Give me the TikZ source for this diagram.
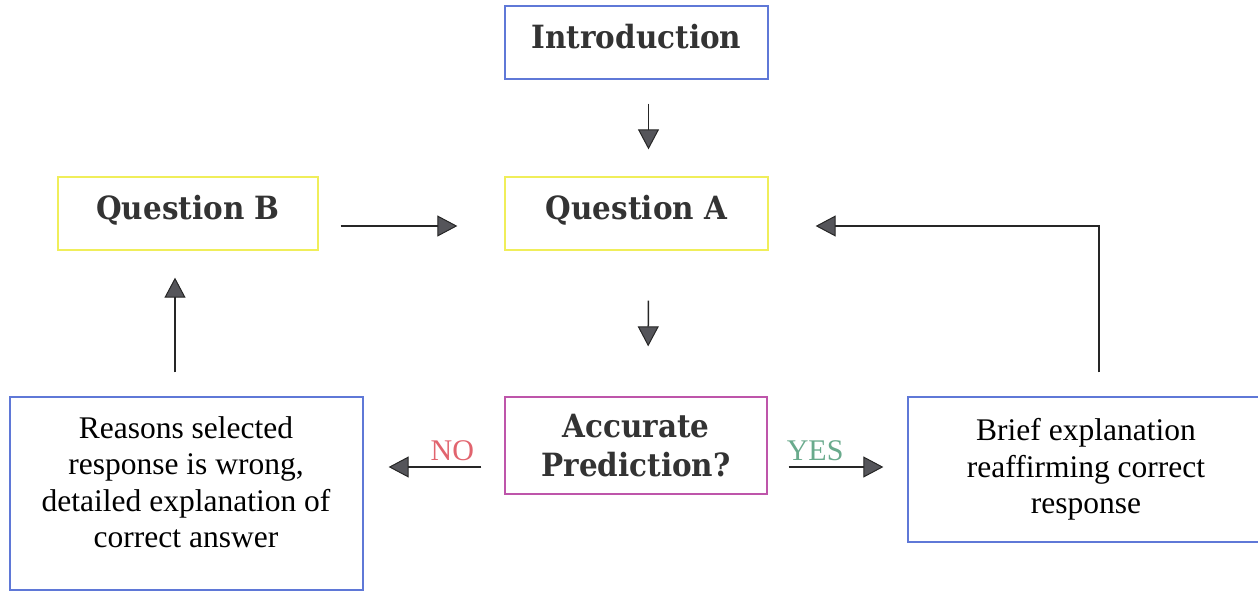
\documentclass[tikz,border=0pt]{standalone}
\usepackage{fontspec}
\setmainfont{Liberation Serif}
\newfontfamily\titlefont[FakeStretch=0.92]{DejaVu Serif}
\usetikzlibrary{arrows.meta}

\definecolor{boxblue}{RGB}{95,120,215}
\definecolor{boxyellow}{RGB}{240,238,90}
\definecolor{boxpink}{RGB}{190,85,170}
\definecolor{nored}{RGB}{225,100,110}
\definecolor{yesgreen}{RGB}{105,170,140}
\definecolor{tipgray}{RGB}{85,85,90}

\tikzset{
  box/.style={draw, line width=1.3pt, inner sep=0pt, align=center},
  titlebox/.style={box, minimum width=263pt, minimum height=73pt,
    font=\titlefont\bfseries\fontsize{32}{39}\selectfont, text=black!80},
  oneline/.style={text height=24pt, text depth=12pt},
  bodyfont/.style={font=\fontsize{31.5}{36.5}\selectfont},
  textbox/.style={box, draw=boxblue, bodyfont},
  flow/.style={line width=1.5pt, draw=black!85,
    -{Triangle[length=20pt, width=21pt, fill=tipgray, line width=1pt]}},
  answer/.style={font=\fontsize{30}{34}\selectfont}
}

\begin{document}
\begin{tikzpicture}[x=1pt, y=-1pt]
  \useasboundingbox (0,0) rectangle (1258,591);

  % the boxes
  \node[titlebox, oneline, draw=boxblue] (intro) at (636.5,42.5) {Introduction};
  \node[titlebox, oneline, draw=boxyellow, minimum width=260pt] (qb) at (188,213.5) {Question B};
  \node[titlebox, oneline, draw=boxyellow] (qa) at (636.5,213.5) {Question A};
  \node[titlebox, draw=boxpink, minimum width=262pt, minimum height=97pt] (acc)
    at (636,445.5) {Accurate\\Prediction?};
  \node[textbox, minimum width=353pt, minimum height=193pt] (reasons) at (186.5,493.5) {};
  \node[bodyfont, align=center] (reasonstxt) at (186,482)
    {Reasons selected\\response is wrong,\\detailed explanation of\\correct answer};
  \node[textbox, minimum width=356pt, minimum height=145pt] (brief) at (1086,469.5)
    {Brief explanation\\reaffirming correct\\response};

  % the arrows
  \draw[flow, shorten <=24pt, shorten >=27pt] ([xshift=12pt]intro.south) -- ([xshift=12pt]qa.north);
  \draw[flow, shorten <=22pt, shorten >=47pt] ([yshift=-12.5pt]qb.east) -- ([yshift=-12.5pt]qa.west);
  \draw[flow, shorten <=50pt, shorten >=50pt] ([xshift=12pt]qa.south) -- ([xshift=12pt]acc.north);
  \draw[flow, shorten <=23pt, shorten >=25pt] ([yshift=-21.5pt]acc.west) -- ([yshift=-21.5pt]reasons.east |- acc.west)
    node[pos=0.37, above=2pt, answer, text=nored] (no) {NO};
  \draw[flow, shorten <=21pt, shorten >=24pt] ([yshift=-21.5pt]acc.east) -- ([yshift=-21.5pt]brief.west |- acc.east)
    node[pos=0.34, above=2pt, answer, text=yesgreen] (yes) {YES};
  \draw[flow, shorten <=24pt, shorten >=47pt] ([xshift=13pt]brief.north) |- ([yshift=-12.5pt]qa.east);
  \draw[flow, shorten <=24pt, shorten >=27pt] ([xshift=-11.5pt]reasons.north) -- ([xshift=-13pt]qb.south);
\end{tikzpicture}
\end{document}
